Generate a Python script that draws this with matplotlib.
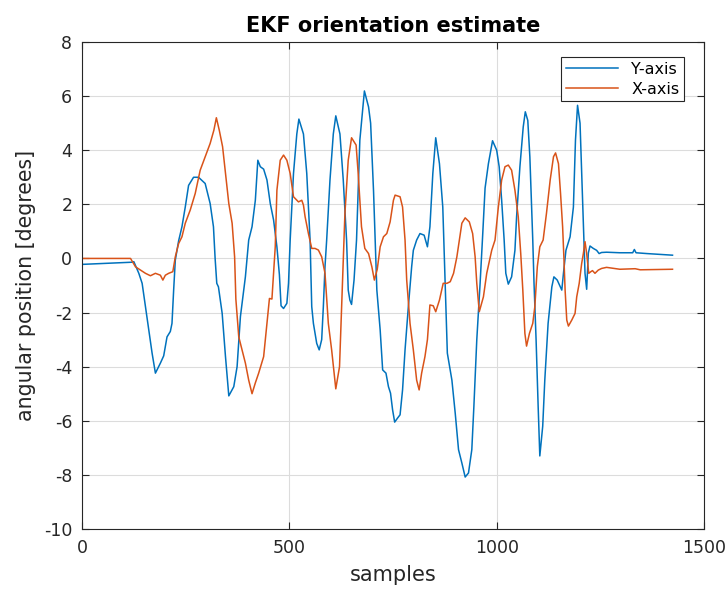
import numpy as np
import matplotlib.pyplot as plt

# Y-axis estimate, (sample, degrees)
y_axis = [(0, -0.22), (120, -0.14), (125, -0.12), (137, -0.55), (145, -0.92), (153, -1.78),
          (161, -2.64), (169, -3.5), (177, -4.24), (189, -3.87), (197, -3.6), (205, -2.9),
          (213, -2.7), (217, -2.4), (221, -1.17), (225, -0.06), (233, 0.65), (241, 1.17),
          (249, 1.9), (257, 2.7), (269, 3.0), (281, 3.0), (297, 2.77), (309, 2.03), (317, 1.17),
          (321, 0.0), (325, -0.92), (329, -1.05), (338, -2.03), (346, -3.63), (354, -5.08),
          (366, -4.74), (374, -4.0), (382, -2.15), (394, -0.68), (402, 0.68), (410, 1.17),
          (418, 2.15), (424, 3.63), (430, 3.39), (438, 3.3), (446, 2.9), (454, 2.03),
          (462, 1.42), (470, 0.43), (476, -0.6), (480, -1.75), (486, -1.85), (494, -1.66),
          (498, -0.92), (502, 0.68), (510, 3.14), (518, 4.6), (523, 5.15), (534, 4.6),
          (542, 3.14), (550, 0.68), (554, -1.78), (558, -2.4), (566, -3.14), (572, -3.38),
          (578, -3.0), (582, -1.78), (586, -0.3), (590, 0.68), (598, 2.9), (606, 4.6),
          (612, 5.27), (622, 4.6), (630, 2.9), (638, 0.68), (642, -1.17), (646, -1.54),
          (650, -1.7), (656, -0.8), (662, 0.68), (670, 4.37), (681, 6.19), (691, 5.6),
          (696, 5.0), (703, 2.5), (707, 0.68), (711, -1.17), (719, -2.64), (725, -4.12),
          (733, -4.24), (739, -4.74), (744, -4.98), (749, -5.6), (754, -6.05), (761, -5.9),
          (767, -5.78), (773, -4.86), (779, -3.38), (787, -1.78), (795, -0.3), (799, 0.3),
          (807, 0.68), (815, 0.92), (825, 0.86), (833, 0.43), (839, 1.17), (846, 3.14),
          (853, 4.46), (862, 3.5), (870, 1.9), (875, -0.55), (881, -3.5), (892, -4.5),
          (900, -5.72), (908, -7.07), (916, -7.56), (924, -8.08), (932, -7.93), (940, -7.07),
          (945, -5.47), (952, -3.01), (960, -0.92), (966, 0.8), (972, 2.6), (980, 3.5),
          (990, 4.35), (1000, 4.0), (1006, 3.39), (1012, 2.15), (1018, 0.68), (1022, -0.55),
          (1028, -0.95), (1036, -0.68), (1044, 0.3), (1048, 1.54), (1056, 3.39), (1064, 4.86),
          (1069, 5.42), (1075, 5.1), (1080, 3.75), (1087, 0.68), (1090, -0.9), (1095, -3.0),
          (1100, -5.47), (1104, -7.3), (1111, -6.2), (1116, -4.5), (1124, -2.4), (1133, -1.05),
          (1138, -0.68), (1146, -0.8), (1157, -1.17), (1161, -0.55), (1167, 0.3), (1177, 0.8),
          (1185, 1.9), (1190, 4.37), (1195, 5.66), (1201, 5.0), (1205, 3.14), (1209, 1.3),
          (1213, -0.55), (1217, -1.14), (1221, 0.2), (1225, 0.46), (1233, 0.37), (1241, 0.3),
          (1247, 0.18), (1253, 0.22), (1265, 0.23), (1297, 0.21), (1328, 0.21), (1332, 0.33),
          (1336, 0.21), (1362, 0.18), (1424, 0.12)]

# X-axis estimate, (sample, degrees)
x_axis = [(0, 0.0), (117, 0.0), (129, -0.31), (141, -0.43), (153, -0.55), (165, -0.64),
          (177, -0.55), (189, -0.62), (195, -0.8), (201, -0.62), (209, -0.55), (219, -0.49),
          (225, 0.06), (233, 0.55), (241, 0.8), (249, 1.3), (261, 1.79), (273, 2.4),
          (285, 3.26), (297, 3.76), (309, 4.25), (318, 4.74), (324, 5.2), (331, 4.74),
          (339, 4.13), (346, 3.14), (354, 2.03), (362, 1.3), (368, 0.06), (371, -1.5),
          (378, -2.9), (386, -3.38), (394, -3.87), (402, -4.5), (410, -5.0), (418, -4.6),
          (426, -4.24), (438, -3.63), (446, -2.4), (452, -1.48), (458, -1.5), (466, 0.43),
          (470, 2.52), (478, 3.63), (486, 3.82), (494, 3.63), (502, 3.14), (510, 2.28),
          (522, 2.09), (530, 2.15), (534, 1.97), (538, 1.54), (546, 0.92), (554, 0.37),
          (562, 0.37), (570, 0.31), (578, 0.06), (586, -0.55), (594, -2.4), (602, -3.38),
          (612, -4.82), (621, -4.0), (626, -1.78), (630, 0.06), (634, 1.66), (642, 3.63),
          (650, 4.46), (661, 4.19), (666, 3.14), (674, 1.17), (682, 0.37), (691, 0.18),
          (699, -0.31), (705, -0.8), (712, -0.4), (719, 0.43), (727, 0.8), (735, 0.92),
          (743, 1.35), (751, 2.15), (755, 2.34), (767, 2.28), (773, 1.9), (779, 0.68),
          (783, -0.8), (791, -2.4), (799, -3.38), (807, -4.5), (813, -4.86), (819, -4.24),
          (827, -3.63), (833, -3.0), (839, -1.72), (847, -1.75), (853, -1.97), (862, -1.54),
          (871, -0.92), (880, -0.92), (888, -0.86), (896, -0.55), (904, 0.06), (910, 0.68),
          (916, 1.3), (924, 1.5), (934, 1.35), (942, 0.92), (948, 0.06), (952, -0.92),
          (958, -1.97), (968, -1.42), (976, -0.55), (988, 0.3), (996, 0.68), (1004, 1.9),
          (1012, 2.9), (1020, 3.39), (1028, 3.45), (1036, 3.26), (1044, 2.52), (1052, 1.54),
          (1058, 0.18), (1063, -1.17), (1068, -2.77), (1072, -3.24), (1079, -2.77),
          (1087, -2.4), (1092, -1.78), (1098, -0.3), (1104, 0.43), (1112, 0.68), (1120, 1.66),
          (1129, 2.9), (1137, 3.76), (1142, 3.9), (1149, 3.5), (1154, 2.4), (1159, 1.17),
          (1162, 0.06), (1165, -1.17), (1169, -2.28), (1173, -2.5), (1181, -2.28),
          (1189, -2.03), (1193, -1.42), (1199, -0.92), (1205, -0.18), (1209, 0.18),
          (1213, 0.62), (1217, 0.18), (1222, -0.55), (1227, -0.49), (1231, -0.45),
          (1237, -0.55), (1245, -0.43), (1253, -0.37), (1265, -0.33), (1297, -0.4),
          (1334, -0.38), (1346, -0.42), (1424, -0.4)]

y_samples, y_values = zip(*y_axis)
x_samples, x_values = zip(*x_axis)

plt.rcParams['font.family'] = 'DejaVu Sans'
plt.rcParams['axes.unicode_minus'] = False
fig = plt.figure(figsize=(7.27, 5.89), dpi=100)
ax = fig.add_axes([0.1128, 0.1019, 0.8556, 0.8268])

ax.plot(y_samples, y_values, color='#0072BD', lw=1.1, label='Y-axis')
ax.plot(x_samples, x_values, color='#D95319', lw=1.1, label='X-axis')

ax.set_xlim(0, 1500)
ax.set_ylim(-10, 8)
ax.set_xticks([0, 500, 1000, 1500])
ax.set_yticks(np.arange(-10, 9, 2))
ax.grid(True, color='#dcdcdc', lw=0.8)
ax.tick_params(direction='in', top=True, right=True, length=5, labelsize=12.5,
               colors='#262626', width=0.8, pad=7)
for s in ax.spines.values():
    s.set_color('#262626')
    s.set_linewidth(0.8)

ax.set_title('EKF orientation estimate', fontsize=15, fontweight='bold', pad=7)
ax.set_xlabel('samples', fontsize=15, color='#262626', labelpad=6)
ax.set_ylabel('angular position [degrees]', fontsize=14.8, color='#262626', labelpad=6)
leg = ax.legend(loc='upper right', fontsize=11.5, fancybox=False, framealpha=1,
                edgecolor='#262626', handlelength=3.3, borderpad=0.3, labelspacing=0.3,
                borderaxespad=0, bbox_to_anchor=(0.968, 0.969))
leg.get_frame().set_linewidth(0.8)

fig.savefig('out.png', dpi=100)
